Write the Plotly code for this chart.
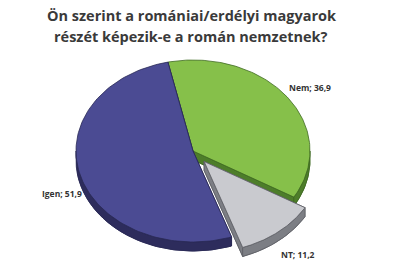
import numpy as np
import plotly.graph_objects as go

# ---- data ----
labels = ["Nem", "NT", "Igen"]
values = [36.9, 11.2, 51.9]
top_colors = ["#86c04a", "#c9cacf", "#4b4b93"]
side_colors = ["#4d7d2a", "#7c7e84", "#2d2c5c"]
edge_colors = ["#3f6a22", "#5e6066", "#2a2a55"]
explode = [0.0, 0.15, 0.0]
label_shift = [(8, -2), (8, 12), (-2, 14)]
title_lines = ["Ön szerint a romániai/erdélyi magyarok", "részét képezik-e a román nemzetnek?"]

# ---- geometry (pixel-like coordinates) ----
W, H = 400, 277
cx, cy = 193, 151
rx, ry = 117, 91
depth = 9
start_deg = -12.4

def pt(t, k=1.0):
    r = np.radians(t)
    return cx + k * rx * np.sin(r), cy - k * ry * np.cos(r)

fig = go.Figure()
total = sum(values)
angle = start_deg
slices = []
for lab, v in zip(labels, values):
    a0 = angle
    a1 = angle + v / total * 360
    slices.append((a0, a1))
    angle = a1

def add_poly(xs, ys, fill, line, width=0.8):
    fig.add_trace(go.Scatter(x=list(xs), y=list(ys), mode="lines", fill="toself",
                             fillcolor=fill, line=dict(color=line, width=width),
                             hoverinfo="skip", showlegend=False))

for i, (lab, v) in enumerate(zip(labels, values)):
    a0, a1 = slices[i]
    mid = (a0 + a1) / 2
    ox = explode[i] * rx * np.sin(np.radians(mid))
    oy = -explode[i] * ry * np.cos(np.radians(mid))
    ts = np.linspace(a0, a1, 120)
    ax_, ay_ = pt(ts)
    ax_ = ax_ + ox
    ay_ = ay_ + oy
    c0x, c0y = cx + ox, cy + oy
    px = np.concatenate([[c0x], ax_, [c0x]])
    py = np.concatenate([[c0y], ay_, [c0y]])
    # bottom face
    add_poly(px, py + depth, side_colors[i], edge_colors[i])
    # radial walls
    for (ex, ey) in [(ax_[0], ay_[0]), (ax_[-1], ay_[-1])]:
        add_poly([c0x, ex, ex, c0x, c0x], [c0y, ey, ey + depth, c0y + depth, c0y],
                 side_colors[i], edge_colors[i])
    # front outer wall
    lo, hi = max(a0, 90), min(a1, 270)
    if hi > lo:
        tw = np.linspace(lo, hi, 100)
        wx, wy = pt(tw)
        wx = wx + ox
        wy = wy + oy
        add_poly(np.concatenate([wx, wx[::-1], [wx[0]]]),
                 np.concatenate([wy, wy[::-1] + depth, [wy[0]]]),
                 side_colors[i], edge_colors[i])
    # top face
    add_poly(px, py, top_colors[i], edge_colors[i])

    # label
    lx, ly = pt(mid, 1.15)
    lx += ox + label_shift[i][0]
    ly += oy + label_shift[i][1]
    fig.add_annotation(x=lx, y=ly, text="<b>" + f"{lab}; {v:.1f}".replace(".", ",") + "</b>",
                       showarrow=False, xanchor="center", yanchor="middle",
                       font=dict(family="Open Sans", size=8.5, color="#333333"))

for j, line in enumerate(title_lines):
    fig.add_annotation(x=191, y=15 + j * 21, text="<b>" + line + "</b>", showarrow=False,
                       xanchor="center", yanchor="middle",
                       font=dict(family="Open Sans", size=14.5, color="#3a3a3a"))

fig.update_layout(
    width=W, height=H,
    margin=dict(l=0, r=0, t=0, b=0),
    paper_bgcolor="white", plot_bgcolor="white",
    xaxis=dict(range=[0, W], visible=False, fixedrange=True),
    yaxis=dict(range=[H, 0], visible=False, fixedrange=True),
)
fig.write_html("out.html")
